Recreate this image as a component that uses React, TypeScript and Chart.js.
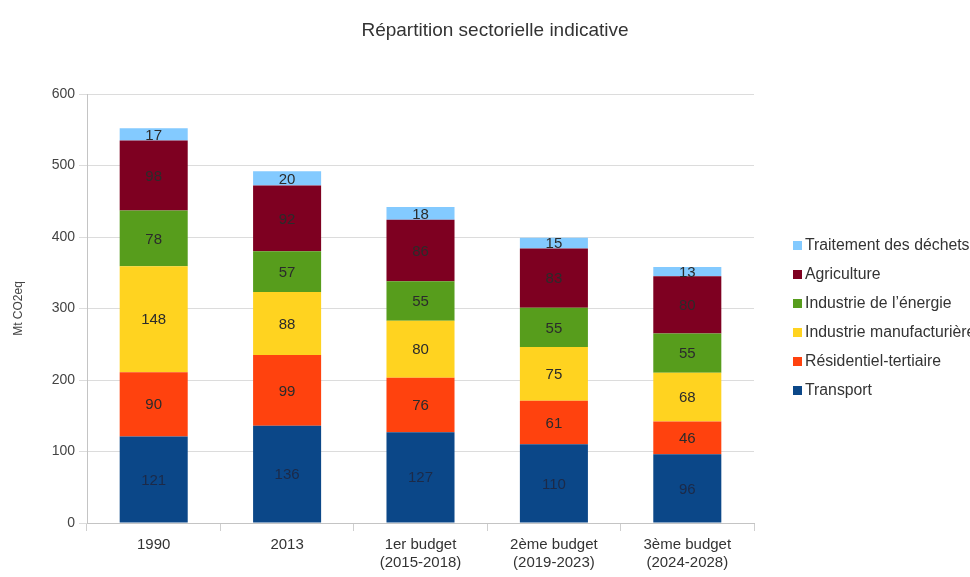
import React, { useEffect, useRef } from "react";
import { Chart, registerables } from "chart.js";

Chart.register(...registerables);

const TITLE = "Répartition sectorielle indicative";
const Y_TITLE = "Mt CO2eq";
const CATEGORIES: (string | string[])[] = [
  "1990",
  "2013",
  ["1er budget", "(2015-2018)"],
  ["2ème budget", "(2019-2023)"],
  ["3ème budget", "(2024-2028)"],
];
const Y_TICKS = [0, 100, 200, 300, 400, 500, 600];

const SERIES_NAMES = [
  "Transport",
  "Résidentiel-tertiaire",
  "Industrie manufacturière",
  "Industrie de l’énergie",
  "Agriculture",
  "Traitement des déchets",
];
const SERIES_COLORS = ["#0b4788", "#ff420e", "#ffd320", "#579d1c", "#7e0021", "#83caff"];

const TRANSPORT = [121, 136, 127, 110, 96];
const RESIDENTIEL = [90, 99, 76, 61, 46];
const MANUFACTURIERE = [148, 88, 80, 75, 68];
const ENERGIE = [78, 57, 55, 55, 55];
const AGRICULTURE = [98, 92, 86, 83, 80];
const DECHETS = [17, 20, 18, 15, 13];

const SERIES_VALUES = [TRANSPORT, RESIDENTIEL, MANUFACTURIERE, ENERGIE, AGRICULTURE, DECHETS];

const FONT = '"Liberation Sans", Arial, sans-serif';

const valueLabels = {
  id: "valueLabels",
  afterDatasetsDraw(chart: any) {
    const ctx = chart.ctx;
    ctx.save();
    ctx.font = `15px ${FONT}`;
    ctx.textAlign = "center";
    ctx.textBaseline = "middle";
    chart.data.datasets.forEach((ds: any, i: number) => {
      const meta = chart.getDatasetMeta(i);
      meta.data.forEach((bar: any, j: number) => {
        const v = ds.data[j];
        const y = (bar.y + bar.base) / 2;
        ctx.fillStyle = i === 0 ? "#1c2a48" : "#2b2b2b";
        ctx.fillText(String(v), bar.x, y + 1);
      });
    });
    ctx.restore();
  },
};

export default function App() {
  const ref = useRef<HTMLCanvasElement | null>(null);

  useEffect(() => {
    document.body.style.margin = "0";
    const canvas = ref.current;
    if (!canvas) return;
    const chart = new Chart(canvas, {
      type: "bar",
      data: {
        labels: CATEGORIES,
        datasets: SERIES_NAMES.map((name, i) => ({
          label: name,
          data: SERIES_VALUES[i],
          backgroundColor: SERIES_COLORS[i],
          borderWidth: 0,
          categoryPercentage: 1,
          barPercentage: 0.51,
        })),
      },
      options: {
        animation: false,
        responsive: true,
        maintainAspectRatio: false,
        layout: { padding: { top: 94, right: 216, bottom: 0, left: 0 } },
        plugins: {
          legend: { display: false },
          title: { display: false },
          tooltip: { enabled: false },
        },
        scales: {
          x: {
            stacked: true,
            grid: {
              display: true,
              drawOnChartArea: false,
              drawTicks: true,
              tickLength: 8,
              color: "#cfcfcf",
            },
            border: { color: "#c4c4c4" },
            ticks: {
              font: { family: FONT, size: 15, lineHeight: 1.2 },
              color: "#333333",
              padding: 5,
              maxRotation: 0,
              autoSkip: false,
            },
          },
          y: {
            stacked: true,
            min: 0,
            max: 600,
            afterFit(scale: any) {
              scale.width = 87;
            },
            afterBuildTicks(scale: any) {
              scale.ticks = Y_TICKS.map((v) => ({ value: v }));
            },
            grid: { color: "#dcdcdc", tickLength: 8 },
            border: { color: "#c4c4c4" },
            ticks: {
              font: { family: FONT, size: 14 },
              color: "#444444",
              padding: 4,
            },
            title: {
              display: true,
              text: Y_TITLE,
              font: { family: FONT, size: 12 },
              color: "#444444",
              padding: { top: 11, bottom: 0 },
            },
          },
        },
      },
      plugins: [valueLabels],
    });
    return () => chart.destroy();
  }, []);

  const legendOrder = SERIES_NAMES.map((_, i) => i).reverse();

  return (
    <div
      style={{
        position: "relative",
        width: 970,
        height: 577,
        overflow: "hidden",
        background: "#ffffff",
        fontFamily: FONT,
      }}
    >
      <canvas ref={ref} />
      <div
        style={{
          position: "absolute",
          left: 0,
          width: 990,
          top: 18,
          textAlign: "center",
          fontSize: 19,
          color: "#333333",
          lineHeight: "24px",
          whiteSpace: "nowrap",
        }}
      >
        {TITLE}
      </div>
      {legendOrder.map((idx, row) => (
        <div
          key={idx}
          style={{
            position: "absolute",
            left: 793,
            top: 245 - 10 + row * 29,
            height: 20,
            display: "flex",
            alignItems: "center",
            whiteSpace: "nowrap",
            fontSize: 15.8,
            color: "#333333",
          }}
        >
          <span
            style={{
              display: "inline-block",
              width: 9,
              height: 9,
              background: SERIES_COLORS[idx],
              marginRight: 3,
            }}
          />
          <span>{SERIES_NAMES[idx]}</span>
        </div>
      ))}
    </div>
  );
}
